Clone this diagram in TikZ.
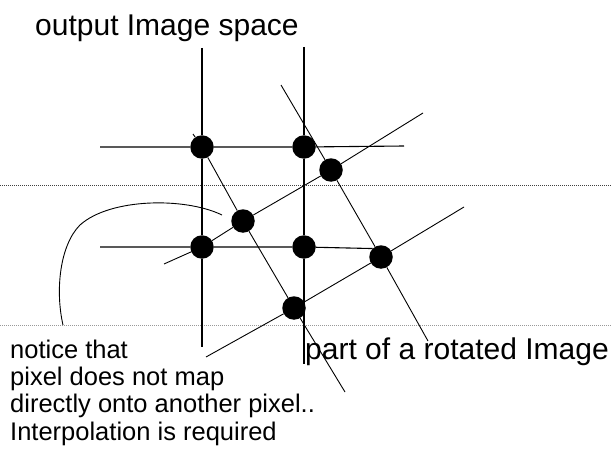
\documentclass[tikz,border=0pt]{standalone}
\usepackage{fontspec}
\setmainfont{Liberation Sans}
\usepackage{tikz}

\begin{document}
\begin{tikzpicture}[x=1pt,y=-1pt,
	pix/.style={circle,fill=black,inner sep=0pt,minimum size=23.5pt},
	gridline/.style={line width=1.1pt},
	rotline/.style={line width=0.9pt},
	scanline/.style={line width=0.6pt,dash pattern=on 1pt off 1pt}]
	\useasboundingbox (0,0) rectangle (611,452);
	% scanned page lines
	\coordinate (s1l) at (0,185.5);
	\coordinate (s1r) at (611,185.5);
	\coordinate (s2l) at (0,325);
	\coordinate (s2r) at (611,325);
	\draw[scanline,black!75] (s1l) -- (s1r);
	\draw[scanline,black!40] (s2l) -- (s2r);
	% pixels
	\node[pix] (a) at (202,147) {};
	\node[pix] (b) at (304,147) {};
	\node[pix] (c) at (331,170) {};
	\node[pix] (d) at (243,221) {};
	\node[pix] (e) at (202,247) {};
	\node[pix] (f) at (304,247) {};
	\node[pix] (g) at (381,257) {};
	\node[pix] (h) at (294,308) {};
	% output grid
	\coordinate (v1t) at (202,48);
	\coordinate (v1b) at (202,347);
	\coordinate (v2t) at (304,47);
	\coordinate (v2b) at (304,364);
	\coordinate (h1l) at (100,147);
	\coordinate (h1r) at (404,146);
	\coordinate (h2l) at (100,247);
	\draw[gridline] (v1t) -- (a) -- (e) -- (v1b);
	\draw[gridline] (v2t) -- (b) -- (f) -- (v2b);
	\draw[gridline] (h1l) -- (a) -- (b) -- (h1r);
	\draw[gridline] (h2l) -- (e) -- (f) -- (g.north west);
	% rotated grid
	\coordinate (r1t) at (193,134);
	\coordinate (r1b) at (345,392);
	\coordinate (r2t) at (281,85);
	\coordinate (r2b) at (428,341);
	\coordinate (r3l) at (164,264);
	\coordinate (r3r) at (423,113);
	\coordinate (r4l) at (206,357);
	\coordinate (r4r) at (464,207);
	\draw[rotline] (r1t) -- (a) -- (d) -- (h) -- (r1b);
	\draw[rotline] (r2t) -- (c) -- (g) -- (r2b);
	\draw[rotline] (r3l) -- (e) -- (d) -- (c) -- (r3r);
	\draw[rotline] (r4l) -- (h) -- (g) -- (r4r);
	% labels
	\node[anchor=base west,inner sep=0pt,font=\fontsize{30}{36}\selectfont] (title) at (35,36) {output Image space};
	\node[anchor=base west,inner sep=0pt,font=\fontsize{30}{36}\selectfont] (rotated) at (305,359) {part of a rotated Image};
	\node[anchor=base west,inner sep=0pt,align=left,font=\fontsize{25.5}{27.3}\selectfont] (notice) at (10,440) {notice that\\pixel does not map\\directly onto another pixel..\\Interpolation is required};
	% pointer from note to pixel
	\coordinate (ct) at (222,215);
	\coordinate (cb) at (63,325);
	\draw[line width=0.9pt] (ct) .. controls (185,197) and (110,198) .. (80,225) .. controls (60,245) and (55,290) .. (cb);
\end{tikzpicture}
\end{document}
